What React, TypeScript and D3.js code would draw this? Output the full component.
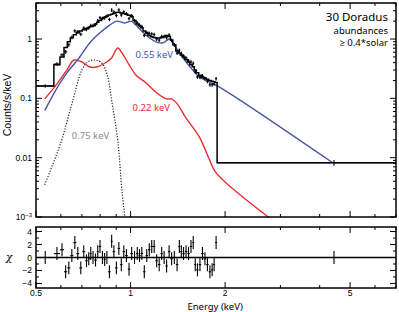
import React from 'react';
import * as d3 from 'd3';

// ---- spectrum bins (keV) ----
const lowBins: number[][] = [[0.5, 0.57], [0.57, 0.596], [0.596, 0.614]];
const denseCenters = [
  0.622, 0.636, 0.650, 0.665, 0.679, 0.694, 0.710, 0.725, 0.736, 0.747,
  0.758, 0.775, 0.786, 0.798, 0.815, 0.827, 0.839, 0.858, 0.871, 0.883,
  0.903, 0.916, 0.936, 0.950, 0.971, 0.989, 1.007, 1.030, 1.052, 1.068,
  1.084, 1.108, 1.124, 1.149, 1.166, 1.191, 1.209, 1.236, 1.254, 1.281,
  1.300, 1.329, 1.349, 1.378, 1.409, 1.430, 1.451, 1.472, 1.505, 1.527,
  1.560, 1.583, 1.607, 1.630, 1.666, 1.691, 1.728, 1.754, 1.792, 1.819,
  1.845, 1.872,
];
const denseLo = 0.614;
const denseHi = 1.886;
const highBin = [1.886, 7.0];

// total model (counts/s/keV), one per bin
const modelTotal = [
  0.162, 0.37, 0.50,
  0.72, 0.90, 1.05, 1.18, 1.28, 1.36, 1.44, 1.51, 1.56, 1.62,
  1.68, 1.80, 1.92, 2.05, 2.22, 2.33, 2.42, 2.53, 2.62, 2.70,
  2.80, 2.82, 2.76, 2.70, 2.62, 2.52, 2.38, 2.05, 1.80, 1.68,
  1.55, 1.36, 1.26, 1.15, 1.09, 1.06, 1.04, 1.04, 1.06, 1.10,
  1.15, 1.10, 0.96, 0.80, 0.63, 0.58, 0.54, 0.50, 0.45, 0.41,
  0.37, 0.34, 0.30, 0.27, 0.245, 0.23, 0.22, 0.21, 0.20, 0.195,
  0.19, 0.185,
  0.0082,
];
// observed counts
const counts = [
  0.162, 0.38, 0.54,
  0.61, 0.80, 1.07, 1.37, 1.33, 1.21, 1.53, 1.46, 1.54, 1.69,
  1.68, 1.75, 2.04, 2.29, 2.22, 2.28, 2.42, 2.14, 3.08, 2.87,
  2.49, 3.10, 2.55, 2.87, 2.67, 2.20, 2.48, 2.05, 1.88, 1.72,
  1.62, 1.15, 1.29, 1.25, 1.22, 1.19, 1.00, 0.96, 1.10, 1.10,
  1.05, 1.17, 0.95, 0.80, 0.58, 0.65, 0.57, 0.52, 0.48, 0.43,
  0.41, 0.39, 0.28, 0.23, 0.226, 0.24, 0.217, 0.194, 0.169, 0.169,
  0.175, 0.215,
  0.0082,
];
const countFracErr = 0.07;
const lastFracErr = 0.11;
// residuals (chi)
const chi = [
  0, 0.6, 1.2,
  -2.2, -1.6, 0.3, 2.3, 0.6, -1.6, 0.9, -0.5, -0.2, 0.6,
  0, -0.4, 0.9, 1.7, 0, -0.3, 0, -2.2, 2.5, 0.9,
  -1.6, 1.4, -1.1, 0.9, 0.3, -1.8, 0.6, 0, 0.6, 0.3,
  0.6, -2.2, 0.3, 1.2, 1.7, 1.7, -0.5, -1.1, 0.6, 0,
  -1.3, 0.9, -0.2, 0, -1.1, 1.7, 0.9, 0.6, 0.9, 0.6,
  1.7, 2.3, -1.1, -1.9, -1.1, 0.6, -0.2, -1.1, -2.2, -1.9,
  -1.1, 2.3,
  0,
];

// ---- model components [keV, counts/s/keV] ----
const comp055: [number, number][] = [
  [0.533, 0.062], [0.574, 0.129], [0.627, 0.268], [0.689, 0.498], [0.741, 0.857],
  [0.797, 1.26], [0.858, 1.72], [0.903, 2.0], [0.93, 1.95], [0.957, 1.86],
  [0.985, 1.95], [1.007, 1.98], [1.04, 1.72], [1.092, 1.31], [1.149, 1.04],
  [1.21, 0.89], [1.26, 0.857], [1.30, 0.93], [1.33, 1.0], [1.36, 0.88],
  [1.43, 0.582], [1.53, 0.366], [1.655, 0.23], [1.778, 0.189], [1.914, 0.156],
  [4.40, 0.0082],
];
const comp022: [number, number][] = [
  [0.533, 0.098], [0.58, 0.169], [0.627, 0.30], [0.66, 0.443], [0.70, 0.41],
  [0.741, 0.338], [0.78, 0.338], [0.84, 0.41], [0.87, 0.48], [0.91, 0.706],
  [0.94, 0.58], [0.99, 0.366], [1.04, 0.248], [1.12, 0.182], [1.21, 0.124],
  [1.30, 0.098], [1.35, 0.098], [1.40, 0.084], [1.50, 0.047], [1.655, 0.0225],
  [1.78, 0.0095], [1.87, 0.0056], [2.76, 0.00098],
];
const comp075: [number, number][] = [
  [0.533, 0.0035], [0.60, 0.018], [0.65, 0.08], [0.70, 0.30], [0.73, 0.41],
  [0.77, 0.443], [0.81, 0.395], [0.846, 0.23], [0.87, 0.094], [0.91, 0.02],
  [0.94, 0.0026], [0.96, 0.001],
];

const compLabels = [
  { text: '0.55 keV', e: 1.037, v: 0.478, color: '#4257a8' },
  { text: '0.22 keV', e: 1.015, v: 0.0612, color: '#ec2a2f' },
  { text: '0.75 keV', e: 0.650, v: 0.0207, color: '#8a8a8a' },
];

const xMajor = [0.5, 1, 2, 5];
const xMinor = [0.6, 0.7, 0.8, 0.9, 3, 4, 6, 7];
const yMajor = [1e-3, 0.01, 0.1, 1];
const chiMajor = [-4, -2, 0, 2, 4];
const chiMinor = [-3, -1, 1, 3];

const W = 399, H = 312;
const L = 36, R = 396;
const topY0 = 3, topY1 = 217;
const botY0 = 227, botY1 = 288;
const tickFont = '"Liberation Sans", Arial, sans-serif';
const textFont = '"Noto Sans", "Open Sans", sans-serif';

export default function App() {
  const x = d3.scaleLog().domain([0.5, 7.0]).range([L, R]);
  const y = d3.scaleLog().domain([1e-3, 4.05]).range([topY1, topY0]);
  const yc = d3.scaleLinear().domain([-4.7, 4.7]).range([botY1, botY0]);

  // bins
  const dEdges = [denseLo];
  for (let i = 1; i < denseCenters.length; i++) dEdges.push(Math.sqrt(denseCenters[i - 1] * denseCenters[i]));
  dEdges.push(denseHi);
  const bins: number[][] = [...lowBins];
  for (let i = 0; i < denseCenters.length; i++) bins.push([dEdges[i], dEdges[i + 1]]);
  bins.push(highBin);

  const stepPts: [number, number][] = [];
  bins.forEach((b, i) => {
    stepPts.push([x(b[0]), y(modelTotal[i])]);
    stepPts.push([x(b[1]), y(modelTotal[i])]);
  });
  const line = d3.line();
  const smooth = d3.line<[number, number]>().x(d => x(d[0])).y(d => y(d[1])).curve(d3.curveCatmullRom.alpha(0.5));

  const minorDecade: number[] = [];
  [1e-3, 0.01, 0.1, 1].forEach(d => { for (let k = 2; k <= 9; k++) if (d * k < 4.05) minorDecade.push(d * k); });

  const frame = (y0: number, y1: number) => (
    <rect x={L} y={y0} width={R - L} height={y1 - y0} fill="none" stroke="#000" strokeWidth={1.5} />
  );

  const xTicks = (y0: number, y1: number) => (
    <g stroke="#000" strokeWidth={1}>
      {xMajor.map(t => (
        <g key={'M' + t}>
          <line x1={x(t)} x2={x(t)} y1={y1} y2={y1 - 6} />
          <line x1={x(t)} x2={x(t)} y1={y0} y2={y0 + 6} />
        </g>
      ))}
      {xMinor.map(t => (
        <g key={'m' + t}>
          <line x1={x(t)} x2={x(t)} y1={y1} y2={y1 - 3} />
          <line x1={x(t)} x2={x(t)} y1={y0} y2={y0 + 3} />
        </g>
      ))}
    </g>
  );

  const yLabel = (v: number) => {
    if (v === 1e-3) return (<>10<tspan dy={-3} fontSize={6}>−3</tspan></>);
    return d3.format('~g')(v);
  };

  return (
    <svg width={W} height={H} style={{ position: 'absolute', left: 0, top: 0, background: '#fff' }}>
      {/* ---------- top panel ---------- */}
      <path d={smooth(comp075) || ''} fill="none" stroke="#222" strokeWidth={1.2} strokeDasharray="1.2,1.6" />
      <path d={smooth(comp022) || ''} fill="none" stroke="#ec2a2f" strokeWidth={1.4} />
      <path d={smooth(comp055) || ''} fill="none" stroke="#4257a8" strokeWidth={1.4} />
      <path d={line(stepPts) || ''} fill="none" stroke="#000" strokeWidth={1.5} />
      <g stroke="#000" strokeWidth={1.1}>
        {bins.map((b, i) => {
          const c = (b[0] + b[1]) / 2;
          const fe = i === bins.length - 1 ? lastFracErr : countFracErr;
          return (
            <g key={i}>
              <line x1={x(b[0])} x2={x(b[1])} y1={y(counts[i])} y2={y(counts[i])} />
              <line x1={x(c)} x2={x(c)} y1={y(counts[i] * (1 - fe))} y2={y(counts[i] * (1 + fe))} />
            </g>
          );
        })}
      </g>

      {frame(topY0, topY1)}
      {xTicks(topY0, topY1)}
      <g stroke="#000" strokeWidth={1}>
        {yMajor.map(t => (
          <g key={t}>
            <line x1={L} x2={L + 6} y1={y(t)} y2={y(t)} />
            <line x1={R} x2={R - 6} y1={y(t)} y2={y(t)} />
          </g>
        ))}
        {minorDecade.map(t => (
          <g key={t}>
            <line x1={L} x2={L + 3} y1={y(t)} y2={y(t)} />
            <line x1={R} x2={R - 3} y1={y(t)} y2={y(t)} />
          </g>
        ))}
      </g>
      <g fontFamily={tickFont} fontSize={8.5} textAnchor="end" fill="#000">
        {yMajor.map(t => (
          <text key={t} x={L - 4} y={y(t) + 3}>{yLabel(t)}</text>
        ))}
      </g>

      {compLabels.map(l => (
        <text key={l.text} x={x(l.e)} y={y(l.v)} fill={l.color} fontFamily={textFont} fontSize={9.5}>{l.text}</text>
      ))}

      <g fontFamily={textFont} textAnchor="end" fill="#000">
        <text x={388} y={21} fontSize={11.5}>30 Doradus</text>
        <text x={388} y={34} fontSize={9.5}>abundances</text>
        <text x={388} y={46} fontSize={9.5}>≥ 0.4*solar</text>
      </g>

      <text transform={`translate(11,105) rotate(-90)`} textAnchor="middle"
        fontFamily={tickFont} fontSize={10.5}>Counts/s/keV</text>

      {/* ---------- chi panel ---------- */}
      <line x1={L} x2={R} y1={yc(0)} y2={yc(0)} stroke="#000" strokeWidth={1.3} />
      <g stroke="#000" strokeWidth={1.1}>
        {bins.map((b, i) => {
          const c = (b[0] + b[1]) / 2;
          return (
            <g key={i}>
              <line x1={x(b[0])} x2={x(b[1])} y1={yc(chi[i])} y2={yc(chi[i])} />
              <line x1={x(c)} x2={x(c)} y1={yc(chi[i] - 1)} y2={yc(chi[i] + 1)} />
            </g>
          );
        })}
      </g>
      {frame(botY0, botY1)}
      {xTicks(botY0, botY1)}
      <g stroke="#000" strokeWidth={1}>
        {chiMajor.map(t => (
          <g key={t}>
            <line x1={L} x2={L + 6} y1={yc(t)} y2={yc(t)} />
            <line x1={R} x2={R - 6} y1={yc(t)} y2={yc(t)} />
          </g>
        ))}
        {chiMinor.map(t => (
          <g key={t}>
            <line x1={L} x2={L + 3} y1={yc(t)} y2={yc(t)} />
            <line x1={R} x2={R - 3} y1={yc(t)} y2={yc(t)} />
          </g>
        ))}
      </g>
      <g fontFamily={tickFont} fontSize={8.5} textAnchor="end" fill="#000">
        {chiMajor.map(t => (
          <text key={t} x={L - 4} y={yc(t) + 3}>{t < 0 ? '−' + Math.abs(t) : t}</text>
        ))}
      </g>
      <text x={9} y={yc(0) + 3} textAnchor="middle" fontFamily='"DejaVu Serif", serif' fontStyle="italic" fontSize={11}>χ</text>

      <g fontFamily={tickFont} fontSize={8.5} textAnchor="middle" fill="#000">
        {xMajor.map(t => (
          <text key={t} x={x(t)} y={botY1 + 7.5}>{t}</text>
        ))}
      </g>
      <text x={x(2.0) - 10} y={309.5} textAnchor="middle" fontFamily={textFont} fontSize={9.5}>Energy (keV)</text>
    </svg>
  );
}
